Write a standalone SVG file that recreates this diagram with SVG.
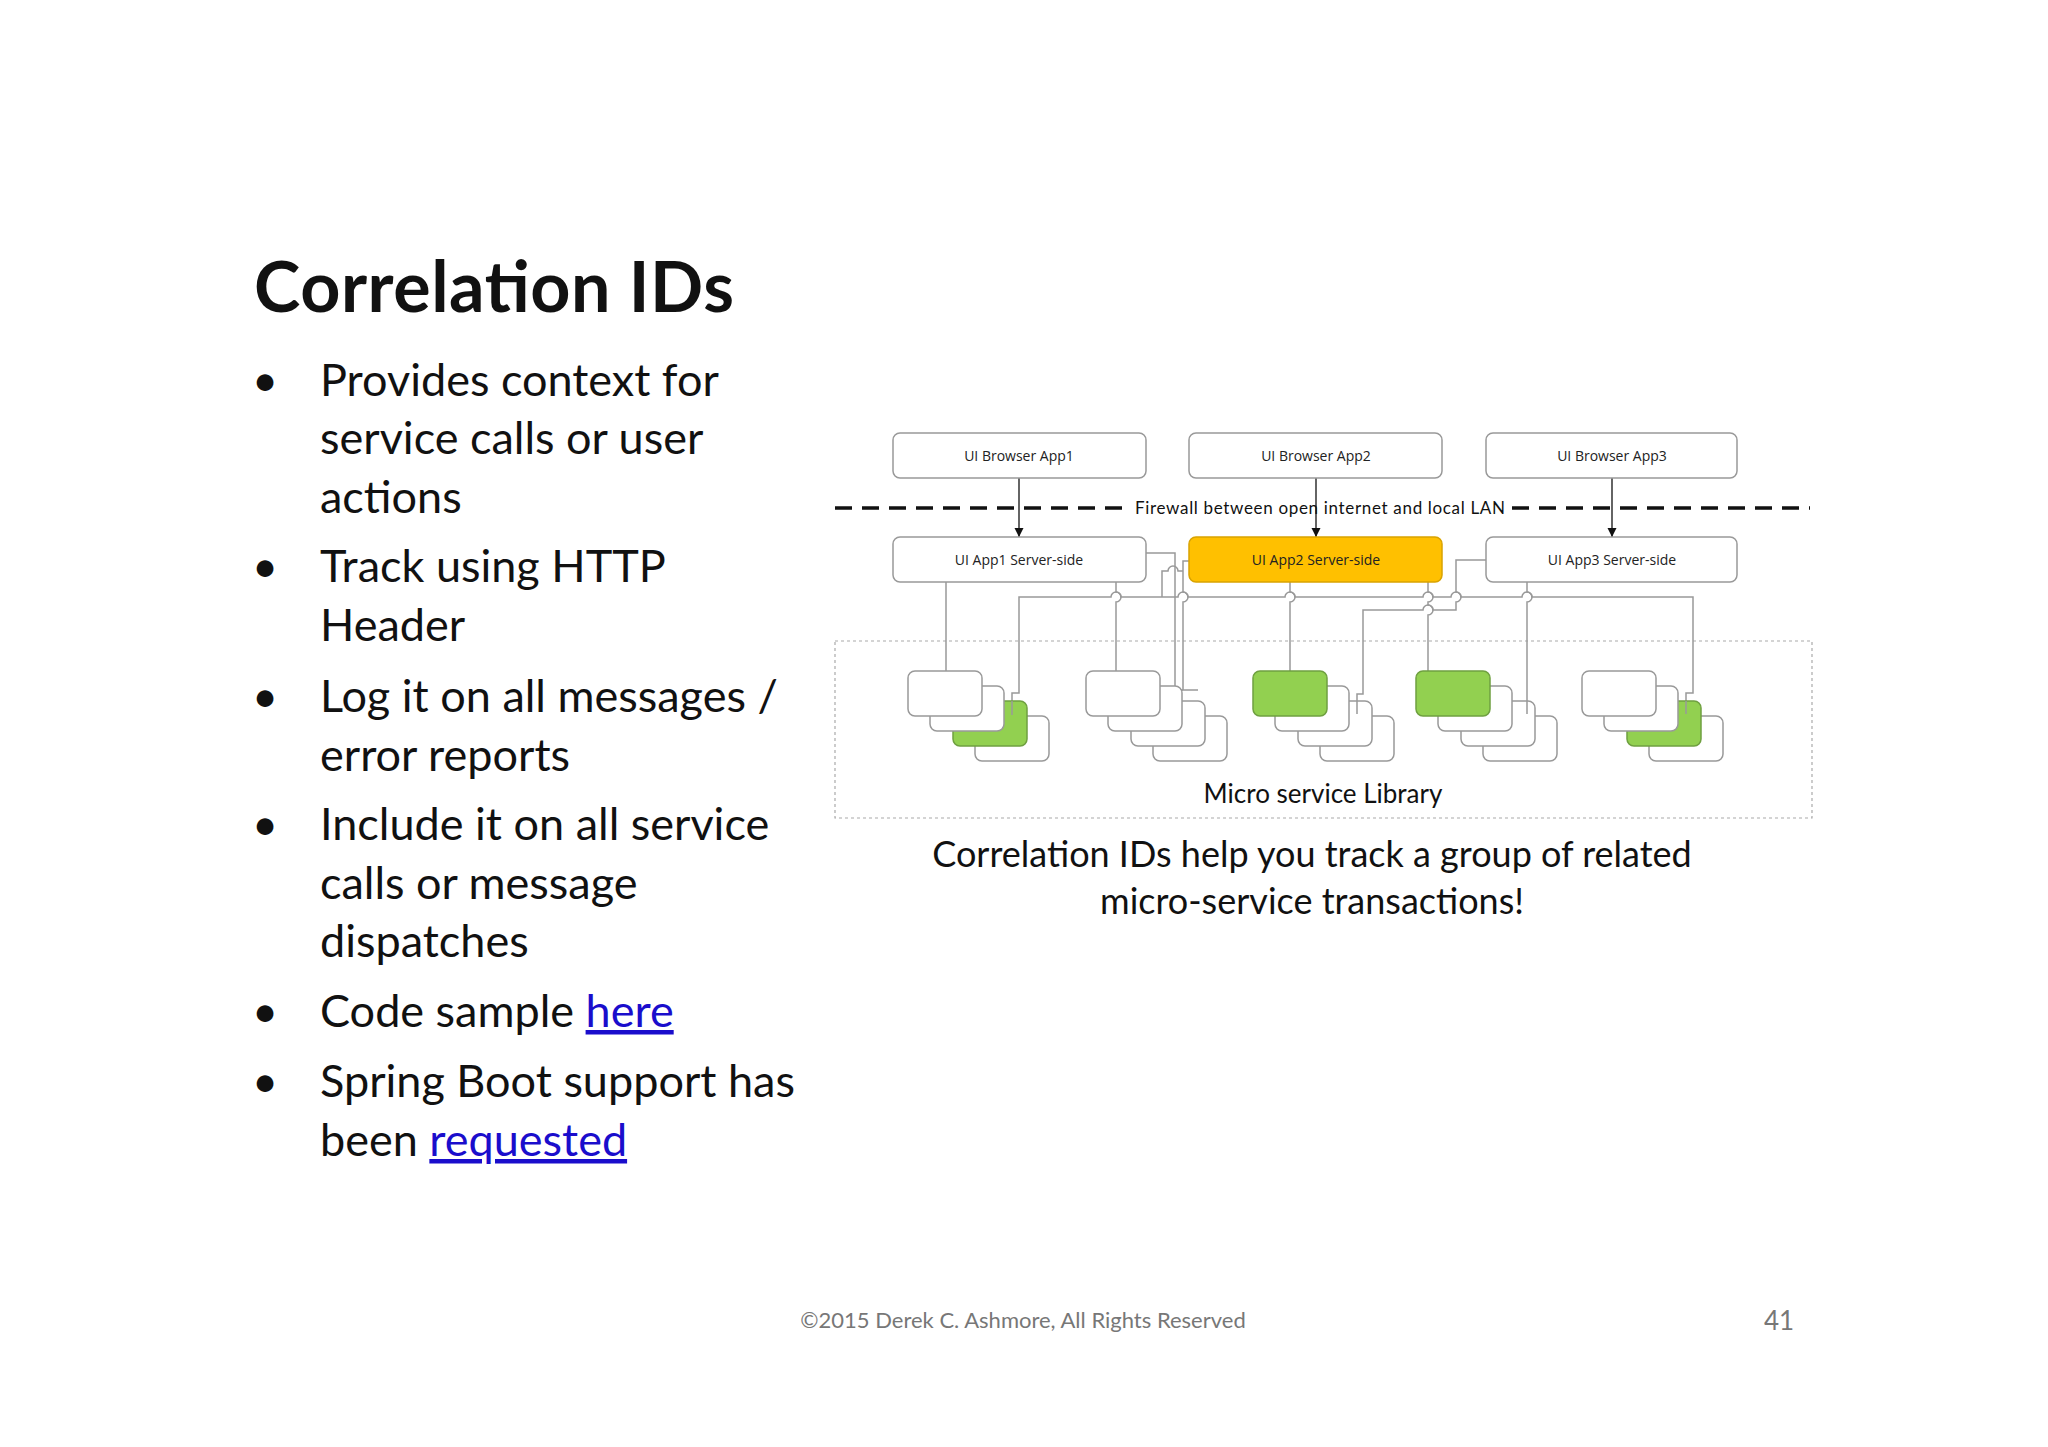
<svg xmlns="http://www.w3.org/2000/svg" width="2048" height="1447" viewBox="0 0 2048 1447">
<style>
.t{font-family:Lato,"Open Sans",sans-serif;fill:#111}
.b{font-size:45px}
.lnk{fill:#1a0dcc;text-decoration:underline}
.box{fill:#fff;stroke:#999;stroke-width:1.5}
.g{fill:#92d050;stroke:#6fa040;stroke-width:1.5}
.y{fill:#ffc000;stroke:#d9a300;stroke-width:1.5}
.bl{font-family:"Open Sans",sans-serif;font-size:14px;fill:#222;text-anchor:middle}
.c{fill:none;stroke:#999;stroke-width:1.5}
.ar{stroke:#111;stroke-width:1.3;fill:none}
</style>
<defs>
<marker id="ah" viewBox="0 0 10 10" refX="10" refY="5" markerWidth="7" markerHeight="7" orient="auto"><path d="M0,0L10,5L0,10z" fill="#111"/></marker>
</defs>
<rect width="2048" height="1447" fill="#fff"/>
<text class="t" x="254" y="312" font-size="70" font-weight="bold" textLength="480">Correlation IDs</text>
<g class="t b">
<text x="252" y="396">•</text><text x="320" y="396">Provides context for</text>
<text x="320" y="454">service calls or user</text>
<text x="320" y="513">actions</text>
<text x="252" y="582">•</text><text x="320" y="582">Track using HTTP</text>
<text x="320" y="641">Header</text>
<text x="252" y="712">•</text><text x="320" y="712">Log it on all messages /</text>
<text x="320" y="771">error reports</text>
<text x="252" y="840">•</text><text x="320" y="840">Include it on all service</text>
<text x="320" y="899">calls or message</text>
<text x="320" y="957">dispatches</text>
<text x="252" y="1027">•</text><text x="320" y="1027">Code sample <tspan class="lnk">here</tspan></text>
<text x="252" y="1097">•</text><text x="320" y="1097">Spring Boot support has</text>
<text x="320" y="1156">been <tspan class="lnk">requested</tspan></text>
</g>

<rect x="835" y="641" width="977" height="177" fill="none" stroke="#aaa" stroke-width="1.2" stroke-dasharray="3,3"/>
<text class="t" x="1323" y="803" font-size="26" text-anchor="middle">Micro service Library</text>

<g id="connectors">
<path d="M835,508H1130M1512,508H1810" stroke="#111" stroke-width="3.5" stroke-dasharray="17,10" fill="none"/>
<path class="ar" d="M1019,478V537" marker-end="url(#ah)"/>
<path class="ar" d="M1316,478V537" marker-end="url(#ah)"/>
<path class="ar" d="M1612,478V537" marker-end="url(#ah)"/>
<path class="c" d="M946,582V671"/>
<path class="c" d="M1116,582V592a5,5 0 0 1 0,10V671"/>
<path class="c" d="M1012,715V693H1019V597H1111a5,5 0 0 1 10,0H1178a5,5 0 0 1 10,0H1285a5,5 0 0 1 10,0H1423a5,5 0 0 1 10,0H1451a5,5 0 0 1 10,0H1522a5,5 0 0 1 10,0H1693V693H1686V714"/>
<path class="c" d="M1146,553H1175V690H1183"/>
<path class="c" d="M1189,561H1183V592a5,5 0 0 1 0,10V690H1198"/>
<path class="c" d="M1162,597V571H1168a5,5 0 0 1 10,0H1183"/>
<path class="c" d="M1290,582V592a5,5 0 0 1 0,10V671"/>
<path class="c" d="M1428,582V592a5,5 0 0 1 0,10V605a5,5 0 0 1 0,10V671"/>
<path class="c" d="M1486,560H1456V592a5,5 0 0 1 0,10V610H1433a5,5 0 0 0 -10,0H1363V694H1357V714"/>
<path class="c" d="M1527,582V592a5,5 0 0 1 0,10V714"/>
</g>

<text class="t" x="1320" y="514" font-size="17" text-anchor="middle" textLength="370">Firewall between open internet and local LAN</text>

<g id="browser1"><rect class="box" x="893" y="433" width="253" height="45" rx="7"/><text class="bl" x="1019" y="461">UI Browser App1</text></g>
<g id="browser2"><rect class="box" x="1189" y="433" width="253" height="45" rx="7"/><text class="bl" x="1316" y="461">UI Browser App2</text></g>
<g id="browser3"><rect class="box" x="1486" y="433" width="251" height="45" rx="7"/><text class="bl" x="1612" y="461">UI Browser App3</text></g>
<g id="server1"><rect class="box" x="893" y="537" width="253" height="45" rx="7"/><text class="bl" x="1019" y="565">UI App1 Server-side</text></g>
<g id="server2"><rect class="y" x="1189" y="537" width="253" height="45" rx="7"/><text class="bl" x="1316" y="565">UI App2 Server-side</text></g>
<g id="server3"><rect class="box" x="1486" y="537" width="251" height="45" rx="7"/><text class="bl" x="1612" y="565">UI App3 Server-side</text></g>

<g id="stack1">
<rect class="box" x="975" y="716" width="74" height="45" rx="7"/>
<rect class="g" x="953" y="701" width="74" height="45" rx="7"/>
<rect class="box" x="930" y="686" width="74" height="45" rx="7"/>
<rect class="box" x="908" y="671" width="74" height="45" rx="7"/>
</g>
<g id="stack2">
<rect class="box" x="1153" y="716" width="74" height="45" rx="7"/>
<rect class="box" x="1131" y="701" width="74" height="45" rx="7"/>
<rect class="box" x="1108" y="686" width="74" height="45" rx="7"/>
<rect class="box" x="1086" y="671" width="74" height="45" rx="7"/>
</g>
<g id="stack3">
<rect class="box" x="1320" y="716" width="74" height="45" rx="7"/>
<rect class="box" x="1298" y="701" width="74" height="45" rx="7"/>
<rect class="box" x="1275" y="686" width="74" height="45" rx="7"/>
<rect class="g" x="1253" y="671" width="74" height="45" rx="7"/>
</g>
<g id="stack4">
<rect class="box" x="1483" y="716" width="74" height="45" rx="7"/>
<rect class="box" x="1461" y="701" width="74" height="45" rx="7"/>
<rect class="box" x="1438" y="686" width="74" height="45" rx="7"/>
<rect class="g" x="1416" y="671" width="74" height="45" rx="7"/>
</g>
<g id="stack5">
<rect class="box" x="1649" y="716" width="74" height="45" rx="7"/>
<rect class="g" x="1627" y="701" width="74" height="45" rx="7"/>
<rect class="box" x="1604" y="686" width="74" height="45" rx="7"/>
<rect class="box" x="1582" y="671" width="74" height="45" rx="7"/>
</g>
<path class="c" d="M1012,701V715M1357,701V714M1527,701V714M1686,701V714"/>

<text class="t" x="1312" y="867" font-size="36" text-anchor="middle">Correlation IDs help you track a group of related</text>
<text class="t" x="1312" y="914" font-size="36" text-anchor="middle">micro-service transactions!</text>
<text x="1023" y="1328" font-family="Lato,'Open Sans',sans-serif" font-size="22" fill="#777" text-anchor="middle">©2015 Derek C. Ashmore, All Rights Reserved</text>
<text x="1779" y="1330" font-family="Lato,'Open Sans',sans-serif" font-size="26" fill="#777" text-anchor="middle">41</text>
</svg>
